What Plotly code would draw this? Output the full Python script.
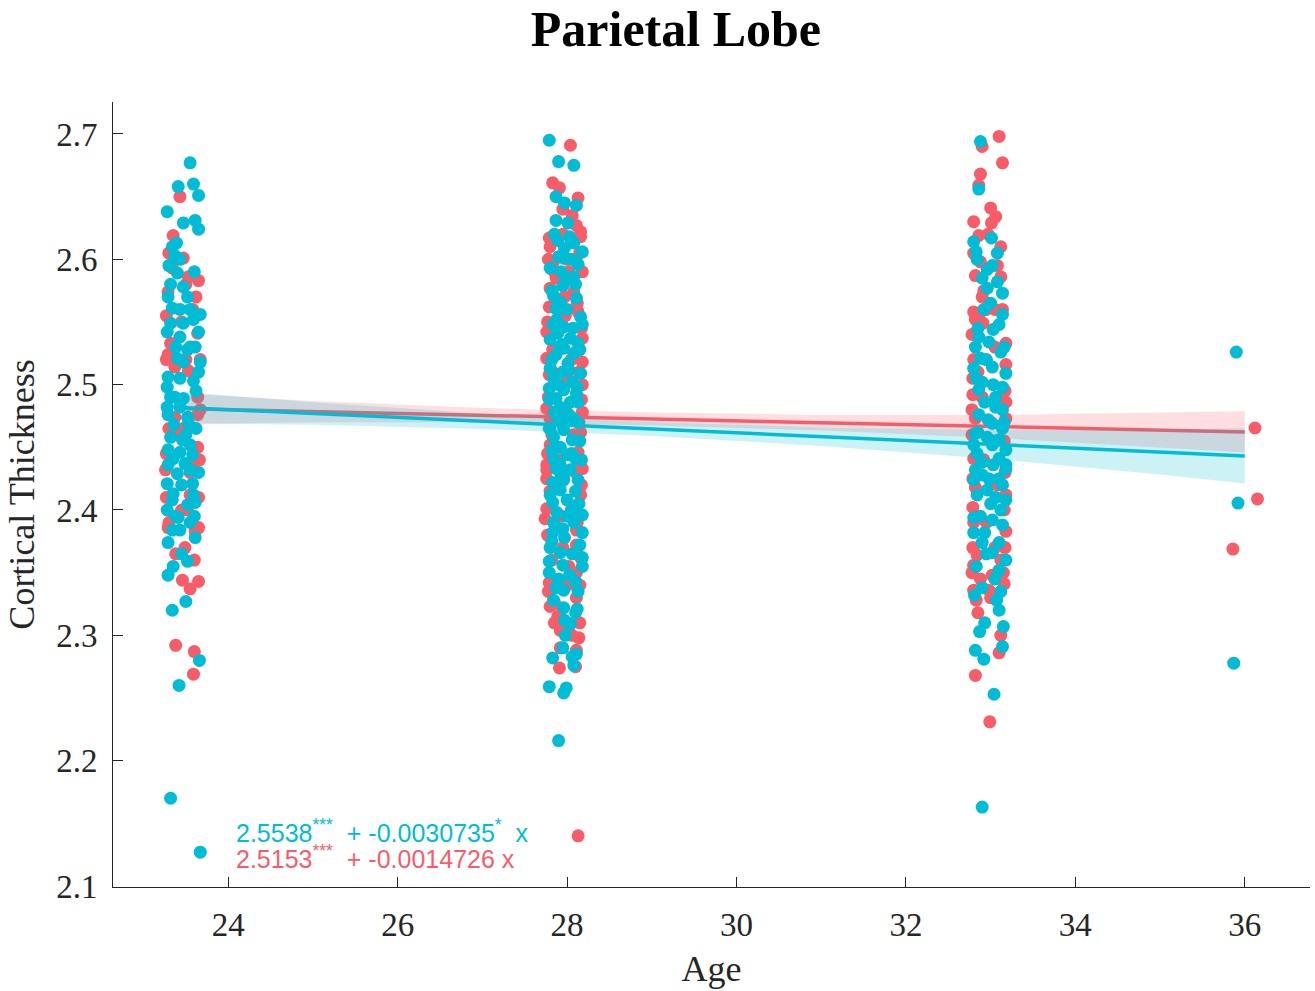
import plotly.graph_objects as go

# ---------------- data ----------------
cyan_age = [
    23.55, 23.41, 23.59, 23.65, 23.28, 23.47, 23.61, 23.65, 23.39, 23.34, 23.37, 23.43, 23.40, 23.32,
    23.47, 23.29, 23.52, 23.34, 23.43, 23.67, 23.32, 23.47, 23.59, 23.28, 23.65, 23.43, 23.55, 23.52,
    23.61, 23.40, 23.67, 23.47, 23.65, 23.29, 23.43, 23.59, 23.28, 23.32, 23.37, 23.47, 23.28, 23.43,
    23.29, 23.52, 23.53, 23.32, 23.46, 23.55, 23.29, 23.43, 23.58, 23.35, 23.49, 23.29, 23.55, 23.40,
    23.28, 23.58, 23.35, 23.59, 23.34, 23.28, 23.52, 23.61, 23.41, 23.34, 23.43, 23.29, 23.61, 23.52,
    23.35, 23.29, 23.50, 23.34, 23.66, 23.42, 23.32, 23.67,
    23.60, 23.30, 23.55, 23.38, 23.62, 23.36, 23.50, 23.62, 23.45, 23.65, 23.38, 23.55, 23.45, 23.60,
    27.79, 27.90, 28.08, 27.87, 27.97, 28.11, 27.87, 28.01, 27.89, 28.08, 27.97, 28.18, 27.90, 27.96,
    27.80, 28.13, 28.08, 27.95, 27.84, 28.11, 27.92, 27.87, 28.00, 28.16, 27.83, 27.96, 28.18, 27.89,
    28.04, 27.80, 28.13, 27.96, 27.87, 28.08, 28.01, 27.80, 27.95, 28.16, 27.84, 28.06, 27.79, 27.96,
    28.11, 27.87, 27.79, 28.04, 28.13, 27.92, 27.89, 28.08, 28.13, 27.79, 27.96, 27.84, 28.06, 27.92,
    28.00, 27.84, 28.10, 27.92, 27.87, 28.04, 27.83, 27.96, 28.13, 27.92, 27.83, 28.00, 28.06, 28.18,
    27.84, 28.08, 27.83, 28.18, 27.97, 27.80, 27.92, 28.18, 27.79, 27.95, 28.18, 27.79, 27.87, 27.96,
    28.10, 28.13, 27.96, 28.12, 27.97, 28.04, 27.95, 28.06, 28.11, 27.83, 28.08, 27.79, 27.96, 27.99,
    27.90,
    27.85, 28.03, 27.93, 28.10, 27.82, 28.00, 27.88, 28.07, 27.94, 28.15, 27.82, 28.02, 27.90, 28.12,
    27.85, 28.02, 27.95, 28.15, 27.82, 28.05, 27.93, 28.10, 27.80, 28.00, 27.88, 28.14, 27.95, 27.82,
    28.06, 28.15, 27.90, 28.03, 27.84, 28.10, 27.98, 27.88, 28.05, 27.80, 28.17, 27.92,
    32.88, 32.86, 33.01, 32.80, 32.83, 33.02, 32.96, 32.90, 33.08, 32.96, 33.14, 33.00, 33.14, 33.03,
    32.86, 32.98, 32.82, 33.12, 32.88, 32.80, 33.02, 33.18, 32.90, 33.03, 32.86, 33.14, 32.93, 33.06,
    33.14, 32.86, 33.02, 33.14, 32.82, 32.96, 33.10, 32.80, 33.02, 33.18, 32.84, 33.10, 32.90, 33.03,
    33.18, 32.82, 33.18, 32.80, 32.98, 33.10, 32.96, 33.06, 33.18, 33.12, 32.80, 33.02, 32.80, 32.93,
    32.90, 33.10, 33.02, 33.18, 33.10, 32.81, 33.07, 33.10, 32.93, 32.87, 33.15, 32.82, 32.92, 33.14,
    33.04, 32.90,
    32.84, 33.08, 32.92, 33.10, 32.85, 32.95, 33.16, 32.83, 33.06, 32.97, 33.16, 32.85, 33.05, 32.90,
    33.14, 32.84, 33.00, 32.88, 33.14, 32.95, 32.83, 33.05, 32.90, 33.12,
    35.90, 35.92, 35.87,
]
cyan_thick = [
    2.677, 2.658, 2.660, 2.651, 2.638, 2.629, 2.631, 2.624, 2.613, 2.610, 2.603, 2.600, 2.589, 2.580,
    2.578, 2.570, 2.570, 2.561, 2.560, 2.556, 2.549, 2.549, 2.552, 2.542, 2.542, 2.538, 2.530, 2.528,
    2.530, 2.521, 2.518, 2.518, 2.510, 2.506, 2.505, 2.503, 2.498, 2.490, 2.490, 2.489, 2.482, 2.482,
    2.476, 2.474, 2.469, 2.458, 2.456, 2.452, 2.448, 2.446, 2.444, 2.441, 2.437, 2.436, 2.432, 2.429,
    2.421, 2.421, 2.413, 2.412, 2.408, 2.400, 2.404, 2.406, 2.394, 2.384, 2.384, 2.374, 2.378, 2.359,
    2.355, 2.348, 2.327, 2.320, 2.280, 2.260, 2.170, 2.127,
    2.590, 2.595, 2.560, 2.530, 2.495, 2.468, 2.460, 2.465, 2.420, 2.430, 2.395, 2.390, 2.365, 2.395,
    2.695, 2.678, 2.675, 2.650, 2.645, 2.643, 2.631, 2.629, 2.615, 2.613, 2.609, 2.606, 2.602, 2.601,
    2.593, 2.596, 2.586, 2.579, 2.571, 2.569, 2.566, 2.561, 2.560, 2.554, 2.548, 2.546, 2.548, 2.541,
    2.537, 2.536, 2.533, 2.529, 2.524, 2.525, 2.517, 2.513, 2.510, 2.509, 2.505, 2.502, 2.497, 2.496,
    2.493, 2.489, 2.488, 2.486, 2.486, 2.482, 2.474, 2.473, 2.470, 2.465, 2.464, 2.458, 2.456, 2.450,
    2.444, 2.441, 2.441, 2.436, 2.433, 2.432, 2.422, 2.424, 2.424, 2.416, 2.406, 2.408, 2.400, 2.396,
    2.390, 2.390, 2.382, 2.382, 2.378, 2.370, 2.366, 2.362, 2.359, 2.356, 2.355, 2.350, 2.338, 2.336,
    2.343, 2.335, 2.322, 2.321, 2.312, 2.309, 2.290, 2.283, 2.285, 2.282, 2.276, 2.259, 2.254, 2.258,
    2.216,
    2.620, 2.618, 2.590, 2.580, 2.575, 2.585, 2.552, 2.545, 2.532, 2.528, 2.520, 2.512, 2.500, 2.498,
    2.478, 2.476, 2.468, 2.455, 2.448, 2.445, 2.428, 2.415, 2.412, 2.395, 2.398, 2.405, 2.385, 2.375,
    2.365, 2.372, 2.345, 2.348, 2.328, 2.318, 2.300, 2.560, 2.600, 2.465, 2.440, 2.530,
    2.694, 2.656, 2.617, 2.614, 2.606, 2.595, 2.592, 2.585, 2.582, 2.577, 2.573, 2.565, 2.556, 2.544,
    2.538, 2.534, 2.530, 2.526, 2.521, 2.513, 2.514, 2.509, 2.502, 2.500, 2.496, 2.498, 2.486, 2.482,
    2.480, 2.476, 2.469, 2.465, 2.461, 2.458, 2.456, 2.452, 2.452, 2.448, 2.445, 2.441, 2.438, 2.436,
    2.436, 2.432, 2.433, 2.424, 2.425, 2.425, 2.416, 2.410, 2.408, 2.400, 2.394, 2.392, 2.382, 2.382,
    2.374, 2.374, 2.366, 2.360, 2.352, 2.332, 2.328, 2.320, 2.310, 2.303, 2.307, 2.288, 2.281, 2.291,
    2.253, 2.163,
    2.600, 2.605, 2.560, 2.548, 2.545, 2.520, 2.530, 2.505, 2.490, 2.472, 2.470, 2.462, 2.455, 2.428,
    2.420, 2.412, 2.405, 2.395, 2.388, 2.365, 2.355, 2.345, 2.338, 2.335,
    2.526, 2.4055, 2.2778,
]

red_age = [
    23.43, 23.35, 23.47, 23.34, 23.53, 23.65, 23.29, 23.58, 23.64, 23.32, 23.29, 23.37, 23.53, 23.64,
    23.64, 23.37, 23.47, 23.64, 23.26, 23.59, 23.55, 23.58, 23.52, 23.29, 23.65, 23.61, 23.49, 23.46,
    23.65, 23.55, 23.38, 23.60, 23.59, 23.45, 23.50, 23.40, 23.55, 23.45, 23.50,
    23.30, 23.62, 23.27, 23.67, 23.27, 23.30, 23.67, 23.27, 23.66, 23.27, 23.65, 23.30, 23.60, 23.38,
    28.04, 27.83, 27.91, 28.13, 28.06, 28.11, 28.16, 27.79, 27.80, 28.16, 27.84, 28.18, 27.87, 27.80,
    28.08, 27.79, 28.13, 27.76, 28.18, 27.92, 27.76, 28.18, 27.79, 28.00, 28.18, 27.76, 28.18, 27.80,
    28.16, 27.80, 28.13, 27.76, 28.16, 27.76, 28.18, 27.76, 28.16, 27.76, 28.11, 27.74, 28.11, 28.11,
    27.79, 28.11, 28.11, 27.80, 27.89, 28.14, 27.92, 28.06, 28.11, 27.91, 28.13,
    27.95, 28.02, 27.88, 28.05, 27.98, 27.90, 28.05, 27.95, 28.00, 27.85, 28.08, 27.97, 28.10, 27.83,
    27.93, 28.00,
    27.78, 28.15, 27.85, 28.12, 27.77, 28.17, 27.83, 28.14, 27.78, 28.17, 27.82, 28.14, 27.77, 28.17,
    27.80, 28.12, 27.77, 28.16, 27.82, 28.15, 27.78, 27.86, 28.15, 27.92, 28.10, 27.95, 27.98, 28.00,
    27.96, 28.02,
    33.10, 32.90, 33.14, 32.88, 32.86, 33.00, 33.06, 32.80, 33.01, 32.86, 33.12, 32.80, 32.88, 32.82,
    33.12, 32.90, 32.80, 32.86, 32.82, 32.91, 33.18, 32.79, 33.18, 32.79, 33.18, 32.82, 33.18, 32.80,
    32.82, 33.18, 32.79, 33.18, 32.79, 32.84, 32.80, 33.02, 33.15, 33.16, 32.80, 32.98, 32.83, 33.10,
    32.82, 32.99,
    32.95, 33.05, 32.90, 33.00, 32.92, 33.08, 32.95, 33.05, 32.88, 32.85,
    32.97, 33.08, 32.92, 33.14, 32.78, 33.05, 32.80, 33.17, 32.78, 33.16, 32.78, 33.17, 32.79, 33.16,
    32.80, 33.17, 32.78, 33.12, 32.88, 33.00, 32.85, 33.12,
    36.12, 36.15, 35.86,
]
red_thick = [
    2.650, 2.619, 2.601, 2.593, 2.586, 2.583, 2.574, 2.560, 2.541, 2.533, 2.524, 2.514, 2.511, 2.490,
    2.476, 2.474, 2.465, 2.450, 2.432, 2.436, 2.412, 2.410, 2.400, 2.386, 2.386, 2.383, 2.370, 2.344,
    2.343, 2.337, 2.292, 2.287, 2.269, 2.550, 2.520, 2.460, 2.430, 2.400, 2.580,
    2.605, 2.570, 2.555, 2.520, 2.520, 2.465, 2.480, 2.445, 2.440, 2.410, 2.410, 2.390, 2.360, 2.365,
    2.691, 2.661, 2.657, 2.649, 2.635, 2.627, 2.622, 2.617, 2.610, 2.618, 2.598, 2.590, 2.585, 2.577,
    2.574, 2.562, 2.558, 2.542, 2.537, 2.530, 2.521, 2.518, 2.508, 2.506, 2.500, 2.481, 2.478, 2.473,
    2.462, 2.452, 2.446, 2.436, 2.433, 2.432, 2.433, 2.425, 2.412, 2.401, 2.400, 2.393, 2.384, 2.372,
    2.342, 2.350, 2.330, 2.323, 2.315, 2.298, 2.304, 2.300, 2.288, 2.274, 2.140,
    2.620, 2.590, 2.550, 2.520, 2.480, 2.440, 2.400, 2.370, 2.340, 2.310, 2.460, 2.570, 2.430, 2.510,
    2.395, 2.600,
    2.600, 2.605, 2.590, 2.565, 2.550, 2.545, 2.528, 2.510, 2.490, 2.488, 2.460, 2.470, 2.445, 2.420,
    2.415, 2.390, 2.380, 2.362, 2.360, 2.340, 2.335, 2.325, 2.310, 2.290, 2.275, 2.640, 2.555, 2.505,
    2.425, 2.355,
    2.698, 2.690, 2.677, 2.668, 2.659, 2.641, 2.634, 2.630, 2.629, 2.619, 2.610, 2.605, 2.598, 2.587,
    2.586, 2.570, 2.558, 2.556, 2.552, 2.549, 2.533, 2.505, 2.516, 2.492, 2.486, 2.473, 2.473, 2.441,
    2.418, 2.412, 2.402, 2.383, 2.370, 2.364, 2.356, 2.348, 2.350, 2.341, 2.336, 2.336, 2.328, 2.286,
    2.268, 2.231,
    2.560, 2.530, 2.490, 2.470, 2.440, 2.420, 2.390, 2.370, 2.550, 2.510,
    2.620, 2.595, 2.575, 2.560, 2.540, 2.560, 2.520, 2.495, 2.480, 2.455, 2.460, 2.430, 2.425, 2.400,
    2.390, 2.370, 2.350, 2.360, 2.345, 2.330, 2.318, 2.300,
    2.4654, 2.4088, 2.3688,
]

# fitted models (intercept, slope) and confidence half-widths
cyan_intercept, cyan_slope = 2.5538, -0.0030735
red_intercept, red_slope = 2.5153, -0.0014726
band_age = [23.5, 25, 27, 29, 31, 33, 35, 36]
cyan_halfwidth = [0.0125, 0.0090, 0.0062, 0.0056, 0.0075, 0.0115, 0.0180, 0.0220]
red_halfwidth = [0.0120, 0.0085, 0.0058, 0.0052, 0.0062, 0.0090, 0.0140, 0.0165]

x_ticks = [24, 26, 28, 30, 32, 34, 36]
y_ticks = [2.1, 2.2, 2.3, 2.4, 2.5, 2.6, 2.7]

RED = "#F95C69"
CYAN = "#00BCD4"
RED_FILL = "rgba(249,92,105,0.2)"
CYAN_FILL = "rgba(0,188,212,0.2)"
INK = "#262626"
SERIF = "Liberation Serif, Times New Roman, serif"
SANS = "Liberation Sans, Arial, Helvetica, sans-serif"

fig = go.Figure()


def add_group(ages, thick, intercept, slope, halfwidth, color, fill):
    fig.add_trace(go.Scatter(x=ages, y=thick, mode="markers",
                             marker=dict(color=color, size=13, line=dict(width=0)),
                             hoverinfo="skip", showlegend=False))
    center = [intercept + slope * a for a in band_age]
    upper = [c + h for c, h in zip(center, halfwidth)]
    lower = [c - h for c, h in zip(center, halfwidth)]
    fig.add_trace(go.Scatter(x=band_age + band_age[::-1], y=upper + lower[::-1],
                             fill="toself", fillcolor=fill, line=dict(width=0),
                             mode="lines", hoverinfo="skip", showlegend=False))
    fig.add_trace(go.Scatter(x=band_age, y=center, mode="lines",
                             line=dict(color=color, width=3.5),
                             hoverinfo="skip", showlegend=False))


add_group(red_age, red_thick, red_intercept, red_slope, red_halfwidth, RED, RED_FILL)
add_group(cyan_age, cyan_thick, cyan_intercept, cyan_slope, cyan_halfwidth, CYAN, CYAN_FILL)

fig.add_annotation(x=24.07, y=2.1435, xref="x", yref="y", xanchor="left", yanchor="middle",
                   showarrow=False, align="left",
                   text=f"{cyan_intercept:.4f}<sup>***</sup>  + {cyan_slope:.7f}<sup>*</sup>  x",
                   font=dict(family=SANS, size=25, color=CYAN))
fig.add_annotation(x=24.07, y=2.1235, xref="x", yref="y", xanchor="left", yanchor="middle",
                   showarrow=False, align="left",
                   text=f"{red_intercept:.4f}<sup>***</sup>  + {red_slope:.7f} x",
                   font=dict(family=SANS, size=25, color=RED))

fig.update_layout(
    width=1315, height=991,
    margin=dict(l=113, r=5, t=102, b=104),
    paper_bgcolor="white", plot_bgcolor="white",
    title=dict(text="<b>Parietal Lobe</b>", x=0.514, xanchor="center", y=0.971, yanchor="middle",
               font=dict(family=SERIF, size=50, color="black")),
    xaxis=dict(range=[22.64, 36.77], tickvals=x_ticks, ticktext=[str(v) for v in x_ticks],
               showgrid=False, zeroline=False, showline=True, linecolor=INK, linewidth=1,
               ticks="inside", ticklen=10, tickcolor=INK, ticklabelstandoff=8,
               tickfont=dict(family=SERIF, size=33, color=INK),
               title=dict(text="Age", font=dict(family=SERIF, size=36, color=INK), standoff=14)),
    yaxis=dict(range=[2.0992, 2.7255], tickvals=y_ticks, ticktext=[f"{v:.1f}" for v in y_ticks],
               showgrid=False, zeroline=False, showline=True, linecolor=INK, linewidth=1,
               ticks="inside", ticklen=10, tickcolor=INK, ticklabelstandoff=8,
               tickfont=dict(family=SERIF, size=33, color=INK),
               title=dict(text="Cortical Thickness", font=dict(family=SERIF, size=36, color=INK),
                          standoff=10)),
)

fig.write_html("out.html")
